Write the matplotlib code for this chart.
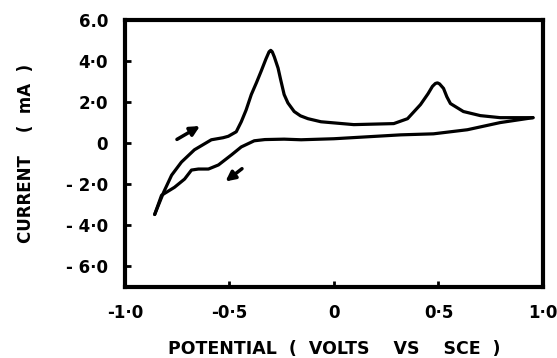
import numpy as np
import matplotlib.pyplot as plt

# anodic sweep (from -0.86 V up to +0.95 V)
fwd_v = [-0.857, -0.814, -0.776, -0.729, -0.667, -0.586, -0.530, -0.505, -0.467,
         -0.443, -0.420, -0.395, -0.370, -0.348, -0.325, -0.310, -0.302, -0.295,
         -0.285, -0.267, -0.255, -0.238, -0.220, -0.190, -0.160, -0.124, -0.062,
         0.095, 0.286, 0.352, 0.414, 0.450, 0.471, 0.485, 0.495, 0.505, 0.524,
         0.540, 0.557, 0.619, 0.700, 0.795, 0.952]
fwd_i = [-3.50, -2.41, -1.58, -0.94, -0.34, 0.15, 0.25, 0.32, 0.54,
         1.03, 1.60, 2.36, 2.95, 3.50, 4.10, 4.45, 4.52, 4.45,
         4.20, 3.65, 3.10, 2.36, 1.95, 1.53, 1.32, 1.18, 1.03,
         0.89, 0.94, 1.18, 1.87, 2.40, 2.76, 2.90, 2.93, 2.88, 2.66,
         2.25, 1.92, 1.53, 1.33, 1.23, 1.23]

# cathodic sweep (back from +0.95 V)
rev_v = [0.952, 0.795, 0.638, 0.476, 0.319, 0.0, -0.157, -0.238, -0.330, -0.381,
         -0.443, -0.490, -0.552, -0.600, -0.648, -0.681, -0.714, -0.762,
         -0.800, -0.824, -0.857]
rev_i = [1.23, 0.99, 0.64, 0.44, 0.39, 0.20, 0.15, 0.18, 0.16, 0.10,
         -0.20, -0.59, -1.08, -1.28, -1.28, -1.33, -1.77, -2.17,
         -2.41, -2.56, -3.50]

xticks = [-1.0, -0.5, 0, 0.5, 1.0]
xlabels = ['-1·0', '-0·5', '0', '0·5', '1·0']
yticks = [-6, -4, -2, 0, 2, 4, 6]
ylabels = ['- 6·0', '- 4·0', '- 2·0', '0', '2·0', '4·0', '6.0']

fig = plt.figure(figsize=(5.57, 3.58), dpi=100)
ax = fig.add_axes([0.224, 0.198, 0.751, 0.746])

ax.plot(fwd_v, fwd_i, color='black', lw=2.3, solid_joinstyle='round',
        solid_capstyle='round')
ax.plot(rev_v, rev_i, color='black', lw=2.3, solid_joinstyle='round',
        solid_capstyle='round')

# sweep direction arrows
ax.annotate('', xy=(-0.629, 0.89), xytext=(-0.762, 0.10),
            arrowprops=dict(arrowstyle='-|>', color='black', lw=2.5,
                            mutation_scale=14))
ax.annotate('', xy=(-0.529, -1.97), xytext=(-0.429, -1.18),
            arrowprops=dict(arrowstyle='-|>', color='black', lw=2.5,
                            mutation_scale=14))

ax.set_xlim(-1.0, 1.0)
ax.set_ylim(-7.05, 6.0)
ax.set_xticks(xticks)
ax.set_xticklabels(xlabels, fontsize=12, fontweight='bold')
ax.set_yticks(yticks)
ax.set_yticklabels(ylabels, fontsize=12, fontweight='bold')
ax.tick_params(direction='in', length=4, width=2, pad=12)

for s in ax.spines.values():
    s.set_linewidth(3)

ax.set_xlabel('POTENTIAL  (  VOLTS    VS    SCE  )', fontsize=12.5,
              fontweight='bold', labelpad=13)
ax.set_ylabel('CURRENT    (  mA  )', fontsize=12, fontweight='bold', labelpad=22)

fig.savefig('out.png', dpi=100)
